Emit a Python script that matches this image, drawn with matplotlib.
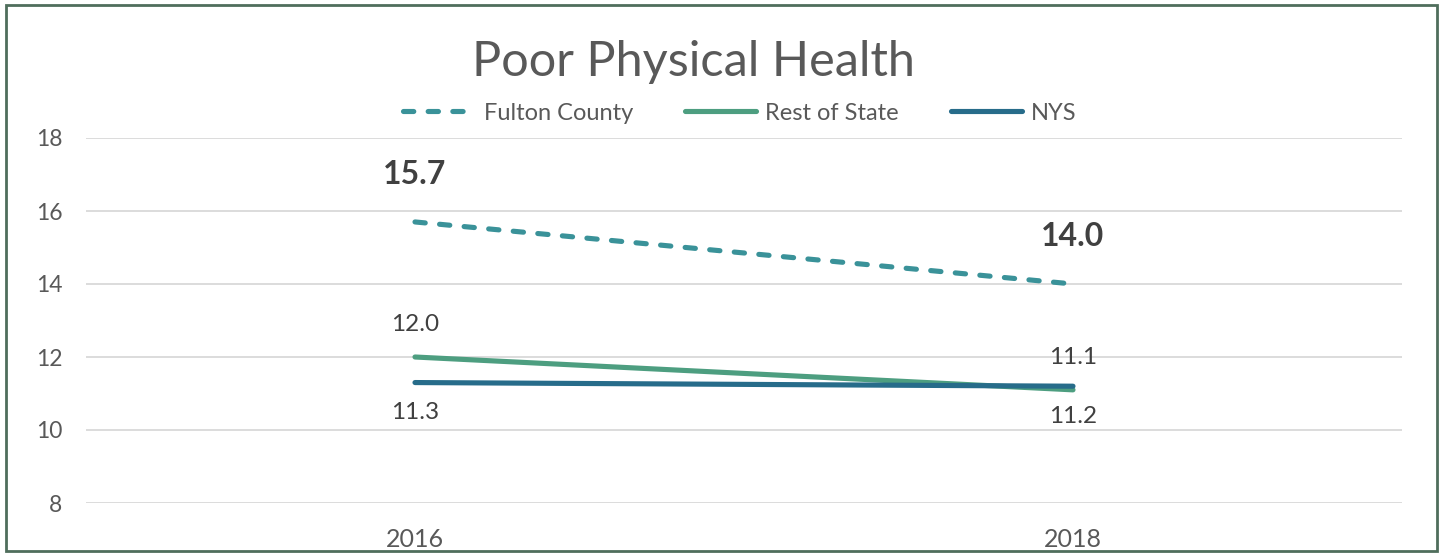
import matplotlib.pyplot as plt
from matplotlib.patches import Rectangle

years = ["2016", "2018"]
fulton = [15.7, 14.0]
rest_of_state = [12.0, 11.1]
nys = [11.3, 11.2]

plt.rcParams['font.family'] = ['Lato', 'DejaVu Sans']

fig = plt.figure(figsize=(14.44, 5.54), dpi=100)
W, H = 1444, 554
ax = fig.add_axes([86 / W, 1 - 503 / H, (1402 - 86) / W, (503 - 138) / H])

x = range(len(years))
ax.plot(x, fulton, color="#3a9299", lw=3.7, ls=(0, (2.0, 2.8)),
        solid_capstyle="round", dash_capstyle="round", label="Fulton County")
ax.plot(x, rest_of_state, color="#4d9e80", lw=3.7,
        solid_capstyle="round", label="Rest of State")
ax.plot(x, nys, color="#276c8a", lw=3.7,
        solid_capstyle="round", label="NYS")

ax.set_xlim(-0.5, 1.5)
ax.set_ylim(8, 18)
ax.set_yticks([8, 10, 12, 14, 16, 18])
ax.set_xticks(list(x))
ax.set_xticklabels(years)
ax.grid(axis="y", color="#d9d9d9", lw=1.3)
ax.set_axisbelow(True)
for s in ax.spines.values():
    s.set_visible(False)
ax.tick_params(length=0, labelsize=16.5, colors="#595959")
ax.tick_params(axis="y", pad=17)
ax.tick_params(axis="x", labelsize=18, pad=18)

# data labels
lab = "#404040"
for i, v in enumerate(fulton):
    ax.annotate(f"{v:.1f}", (i, v), xytext=(0, 24), textcoords="offset points",
                ha="center", va="bottom", fontsize=23, fontweight="bold", color=lab)
ax.annotate(f"{rest_of_state[0]:.1f}", (0, rest_of_state[0]), xytext=(0, 16),
            textcoords="offset points", ha="center", va="bottom", fontsize=17.5, color=lab)
ax.annotate(f"{nys[0]:.1f}", (0, nys[0]), xytext=(0, -14),
            textcoords="offset points", ha="center", va="top", fontsize=17.5, color=lab)
ax.annotate(f"{rest_of_state[1]:.1f}", (1, rest_of_state[1]), xytext=(0, 16),
            textcoords="offset points", ha="center", va="bottom", fontsize=17.5, color=lab)
ax.annotate(f"{nys[1]:.1f}", (1, nys[1]), xytext=(0, -14),
            textcoords="offset points", ha="center", va="top", fontsize=17.5, color=lab)

fig.text(693 / W, 1 - 62 / H, "Poor Physical Health", ha="center", va="center",
         fontsize=35, color="#595959")
fig.legend(loc="center", bbox_to_anchor=(740 / W, 1 - 113 / H), ncol=3, frameon=False,
           fontsize=17, handlelength=3.0, columnspacing=2.2, handletextpad=0.4,
           labelcolor="#595959")

fig.patches.append(Rectangle((6 / W, 3 / H), 1431 / W, 546 / H, transform=fig.transFigure,
                             fill=False, edgecolor="#4f6e5c", lw=2))

fig.savefig("out.png", dpi=100)
